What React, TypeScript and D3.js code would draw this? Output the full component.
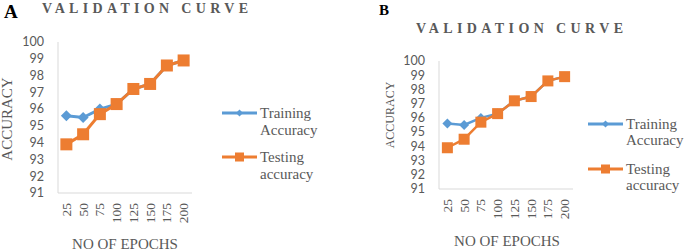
import * as d3 from "d3";
import React from "react";

const epochs = ["25", "50", "75", "100", "125", "150", "175", "200"];
const trainingAcc = [95.6, 95.5, 96.0, 96.3, 97.2, 97.5, 98.6, 98.9];
const testingAcc = [93.9, 94.5, 95.7, 96.3, 97.2, 97.5, 98.6, 98.9];
const yTicks = [91, 92, 93, 94, 95, 96, 97, 98, 99, 100];

const BLUE = "#5B9BD5";
const ORANGE = "#ED7D31";
const GREY = "#595959";
const SERIF = "'Liberation Serif', 'Times New Roman', serif";
const SANS = "Lato, 'Open Sans', sans-serif";

function diamond(cx, cy, r) {
    return `M${cx},${cy - r}L${cx + r},${cy}L${cx},${cy + r}L${cx - r},${cy}Z`;
}

function Panel({ cfg }) {
    const x = d3.scaleBand().domain(epochs).range([cfg.x0, cfg.x1]);
    const y = d3.scaleLinear().domain([91, 100]).range([cfg.yBottom, cfg.yTop]);
    const cx = (d) => x(d) + x.bandwidth() / 2;
    const line = d3
        .line()
        .x((d, i) => cx(epochs[i]))
        .y((d) => y(d));

    return (
        <g>
            <text x={cfg.letterX} y={cfg.letterY} fontFamily={SERIF} fontWeight="bold" fontSize={cfg.letterSize} fill="#000">
                {cfg.letter}
            </text>
            <text
                x={cfg.titleX}
                y={cfg.titleY}
                fontFamily={SERIF}
                fontWeight="bold"
                fontSize={14}
                fill={GREY}
                textLength={cfg.titleLen}
                lengthAdjust="spacing"
            >
                VALIDATION CURVE
            </text>

            {/* axes */}
            <line x1={cfg.x0} x2={cfg.x0} y1={y(100)} y2={y(91)} stroke="#d9d9d9" />
            <line x1={cfg.x0} x2={cfg.x1} y1={y(91)} y2={y(91)} stroke="#d9d9d9" />

            {yTicks.map((t) => (
                <text
                    key={t}
                    x={cfg.x0 - 14}
                    y={y(t)}
                    dy="0.35em"
                    textAnchor="end"
                    fontFamily={SANS}
                    fontSize={12.5}
                    fill={GREY}
                >
                    {t}
                </text>
            ))}
            {epochs.map((e) => (
                <text
                    key={e}
                    transform={`translate(${cx(e)},${cfg.xTickTop}) rotate(-90)`}
                    dy="0.33em"
                    textAnchor="end"
                    fontFamily={SERIF}
                    fontSize={13.5}
                    fill={GREY}
                >
                    {e}
                </text>
            ))}

            <text x={cfg.xLabelX} y={cfg.xLabelY} textAnchor="middle" fontFamily={SERIF} fontSize={15} fill={GREY}>
                NO OF EPOCHS
            </text>
            <text
                transform={`translate(${cfg.yLabelX},${cfg.yLabelY}) rotate(-90)`}
                dy="0.35em"
                textAnchor="middle"
                fontFamily={SERIF}
                fontSize={cfg.yLabelSize}
                fill={GREY}
            >
                ACCURACY
            </text>

            {/* series */}
            <path d={line(trainingAcc)} fill="none" stroke={BLUE} strokeWidth={cfg.lw} />
            {trainingAcc.map((v, i) => (
                <path key={i} d={diamond(cx(epochs[i]), y(v), cfg.dr)} fill={BLUE} />
            ))}
            <path d={line(testingAcc)} fill="none" stroke={ORANGE} strokeWidth={cfg.lw} />
            {testingAcc.map((v, i) => (
                <rect
                    key={i}
                    x={cx(epochs[i]) - cfg.sq / 2}
                    y={y(v) - cfg.sq / 2}
                    width={cfg.sq}
                    height={cfg.sq}
                    fill={ORANGE}
                />
            ))}

            {/* legend */}
            <line x1={cfg.legX0} x2={cfg.legX1} y1={cfg.leg1Y} y2={cfg.leg1Y} stroke={BLUE} strokeWidth={3} />
            <path d={diamond((cfg.legX0 + cfg.legX1) / 2, cfg.leg1Y, 3.5)} fill={BLUE} />
            <line x1={cfg.legX0} x2={cfg.legX1} y1={cfg.leg2Y} y2={cfg.leg2Y} stroke={ORANGE} strokeWidth={3} />
            <rect x={(cfg.legX0 + cfg.legX1) / 2 - 4.5} y={cfg.leg2Y - 4.5} width={9} height={9} fill={ORANGE} />
            <text x={cfg.legX1 + 3} y={cfg.leg1Y + 5} fontFamily={SERIF} fontSize={15} fill={GREY}>
                <tspan x={cfg.legX1 + 3}>Training</tspan>
                <tspan x={cfg.legX1 + 3} dy={cfg.legLine}>Accuracy</tspan>
            </text>
            <text x={cfg.legX1 + 3} y={cfg.leg2Y + 5} fontFamily={SERIF} fontSize={15} fill={GREY}>
                <tspan x={cfg.legX1 + 3}>Testing</tspan>
                <tspan x={cfg.legX1 + 3} dy={cfg.legLine}>accuracy</tspan>
            </text>
        </g>
    );
}

const panelA = {
    letter: "A", letterX: 4, letterY: 18, letterSize: 19,
    titleX: 42, titleY: 12.5, titleLen: 206,
    x0: 58, x1: 192, yTop: 42, yBottom: 193,
    xTickTop: 203, xLabelX: 125, xLabelY: 249,
    yLabelX: 7, yLabelY: 119, yLabelSize: 15,
    lw: 3, dr: 5.5, sq: 12,
    legX0: 222, legX1: 257, leg1Y: 113, leg2Y: 157, legLine: 17,
};

const panelB = {
    letter: "B", letterX: 379, letterY: 15, letterSize: 15,
    titleX: 416, titleY: 33, titleLen: 207,
    x0: 439, x1: 573, yTop: 61, yBottom: 189,
    xTickTop: 199, xLabelX: 507, xLabelY: 246,
    yLabelX: 390, yLabelY: 115, yLabelSize: 12,
    lw: 2.5, dr: 5, sq: 11,
    legX0: 588, legX1: 623, leg1Y: 124, leg2Y: 169, legLine: 16,
};

export default function App() {
    return (
        <svg width={685} height={251} style={{ position: "absolute", left: 0, top: 0, background: "#fff" }}>
            <Panel cfg={panelA} />
            <Panel cfg={panelB} />
        </svg>
    );
}
